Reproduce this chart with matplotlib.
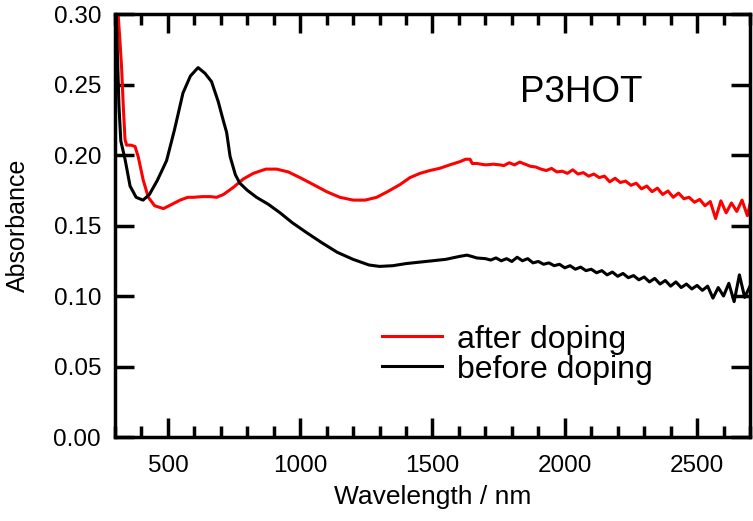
import matplotlib
matplotlib.use('Agg')
import matplotlib.pyplot as plt
from matplotlib.ticker import MultipleLocator

plt.rcParams['font.family'] = ['Liberation Sans', 'DejaVu Sans']

# Absorbance spectra (wavelength in nm)
wl_after = [302, 310, 318, 325, 332, 338, 344, 360, 376, 388, 407, 426, 450, 483, 515, 546,
            575, 596, 630, 660, 684, 710, 747, 785, 823, 870, 911, 955, 999, 1050, 1100,
            1150, 1201, 1245, 1289, 1330, 1377, 1415, 1453, 1490, 1528, 1565, 1604, 1625,
            1642, 1650, 1667, 1700, 1730, 1755,
            1770, 1790, 1810, 1830, 1850, 1870, 1890, 1910, 1930, 1950, 1970, 1990, 2010,
            2030, 2050, 2070, 2090, 2110, 2130, 2150, 2170, 2190, 2210, 2230, 2250, 2270,
            2290, 2310, 2330, 2350, 2370, 2390, 2410, 2430, 2450, 2470, 2490, 2510, 2530,
            2550, 2570, 2590, 2610, 2630, 2650, 2670, 2690, 2700]
abs_after = [0.330, 0.305, 0.283, 0.262, 0.232, 0.211, 0.207, 0.207, 0.206, 0.1986, 0.182,
             0.170, 0.164, 0.162, 0.165, 0.168, 0.170, 0.170, 0.1705, 0.1705, 0.170, 0.172,
             0.177, 0.183, 0.187, 0.190, 0.190, 0.188, 0.184, 0.179, 0.174, 0.170, 0.168,
             0.168, 0.170, 0.174, 0.179, 0.184, 0.187, 0.189, 0.1906, 0.193, 0.1953, 0.197,
             0.197, 0.194, 0.194, 0.193, 0.1935, 0.193,
             0.1925, 0.1945, 0.1930, 0.1950, 0.1935, 0.1920, 0.1915, 0.1900, 0.1890, 0.1905,
             0.1880, 0.1885, 0.1870, 0.1895, 0.1865, 0.1875, 0.1850, 0.1865, 0.1840, 0.1850,
             0.1810, 0.1835, 0.1805, 0.1815, 0.1785, 0.1800, 0.1760, 0.1780, 0.1740, 0.1765,
             0.1720, 0.1745, 0.1700, 0.1730, 0.1690, 0.1700, 0.1665, 0.1685, 0.1640, 0.1670,
             0.1550, 0.1675, 0.1590, 0.1660, 0.1600, 0.1680, 0.1570, 0.1650]

wl_before = [300, 308, 315, 322, 338, 357, 380, 406, 430, 460, 495, 525, 557, 585, 614, 640,
             665, 690, 710, 722, 735, 755, 772, 800, 835, 880, 924, 970, 1024, 1080, 1140,
             1200, 1260, 1300, 1350, 1400, 1450, 1500, 1550, 1600, 1630, 1650, 1667,
             1700, 1720, 1740, 1760, 1780, 1800, 1820, 1840, 1860, 1880, 1900, 1920, 1940,
             1960, 1980, 2000, 2020, 2040, 2060, 2080, 2100, 2120, 2140, 2160, 2180, 2200,
             2220, 2240, 2260, 2280, 2300, 2320, 2340, 2360, 2380, 2400, 2420, 2440, 2460,
             2480, 2500, 2520, 2540, 2560, 2580, 2600, 2620, 2640, 2660, 2680, 2700]
abs_before = [0.330, 0.280, 0.235, 0.210, 0.197, 0.178, 0.170, 0.168, 0.172, 0.182, 0.196,
              0.218, 0.244, 0.256, 0.262, 0.258, 0.252, 0.238, 0.224, 0.216, 0.199, 0.186,
              0.180, 0.175, 0.170, 0.165, 0.159, 0.152, 0.145, 0.138, 0.131, 0.126, 0.122,
              0.121, 0.1215, 0.123, 0.124, 0.125, 0.126, 0.128, 0.129, 0.128, 0.127,
              0.1265, 0.1255, 0.1270, 0.1250, 0.1265, 0.1245, 0.1275, 0.1250, 0.1265, 0.1235,
              0.1245, 0.1225, 0.1235, 0.1215, 0.1225, 0.1200, 0.1215, 0.1190, 0.1205, 0.1180,
              0.1190, 0.1165, 0.1180, 0.1150, 0.1170, 0.1140, 0.1160, 0.1130, 0.1145, 0.1115,
              0.1135, 0.1100, 0.1125, 0.1085, 0.1110, 0.1070, 0.1100, 0.1060, 0.1085, 0.1050,
              0.1075, 0.1040, 0.1070, 0.0985, 0.1060, 0.1000, 0.1090, 0.0960, 0.1150, 0.0990,
              0.1070]

fig = plt.figure(figsize=(7.53, 5.21), dpi=100)
ax = fig.add_axes([0.1527, 0.1612, 0.996 - 0.1527, 0.9731 - 0.1612])

ax.plot(wl_after, abs_after, color='#ff0000', lw=2.2, label='after doping')
ax.plot(wl_before, abs_before, color='black', lw=2.2, label='before doping')

ax.set_xlim(300, 2700)
ax.set_ylim(0, 0.30)
ax.xaxis.set_major_locator(MultipleLocator(500))
ax.xaxis.set_minor_locator(MultipleLocator(100))
ax.yaxis.set_major_locator(MultipleLocator(0.05))
ax.yaxis.set_major_formatter(plt.FormatStrFormatter('%.2f'))

for s in ax.spines.values():
    s.set_linewidth(2.5)
ax.tick_params(which='both', direction='in', top=True, right=True, width=2.5,
               labelsize=17.5)
ax.tick_params(axis='x', pad=13)
ax.tick_params(axis='y', pad=10)
ax.tick_params(which='major', length=14)
ax.tick_params(which='minor', length=8)

ax.set_xlabel('Wavelength / nm', fontsize=19)
ax.set_ylabel('Absorbance', fontsize=18)
ax.xaxis.set_label_coords(0.5, -0.114)
ax.yaxis.set_label_coords(-0.134, 0.5)

ax.text(0.638, 0.793, 'P3HOT', transform=ax.transAxes, fontsize=26.5, va='baseline', ha='left')

ax.legend(loc='center left', bbox_to_anchor=(0.42, 0.195), frameon=False, fontsize=23,
          handlelength=1.9, handletextpad=0.45, labelspacing=0.0, borderpad=0,
          borderaxespad=0)

fig.savefig('out.png', dpi=100)
